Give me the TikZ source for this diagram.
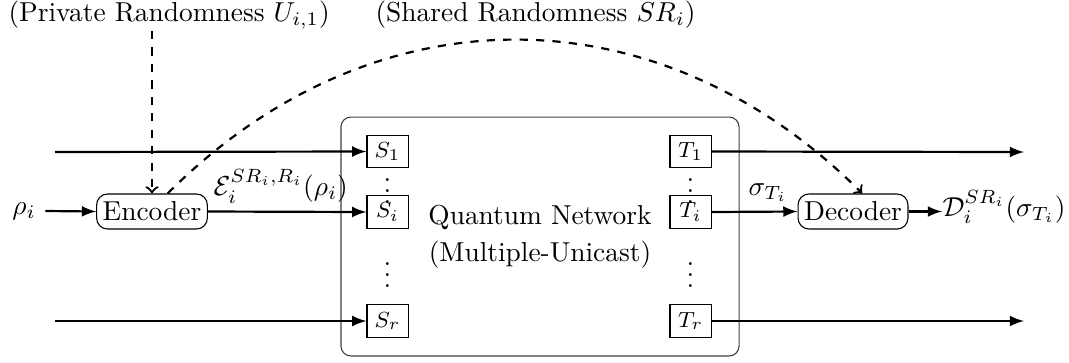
\documentclass[tikz,border=0pt]{standalone}
\usetikzlibrary{arrows}
\begin{document}
\begin{tikzpicture}[x=0.365pt,y=-0.365pt,
  sbox/.style={draw,thin,font=\footnotesize,minimum width=15pt,minimum height=12pt,inner sep=1pt},
  proc/.style={draw,thin,rounded corners=4pt,inner xsep=2.2pt,inner ysep=2pt,minimum height=12.8pt},
  toplabel/.style={anchor=base west,inner sep=0pt},
  flow/.style={thick,-latex},
  rand/.style={thick,dashed,->}]
\useasboundingbox (0,0) rectangle (1069,362);
% network
\node[draw=black!75,rounded corners=3.6pt,minimum width=145.3pt,minimum height=87.2pt,align=center] (net) at (540,236.5) {Quantum Network\\[1.4pt](Multiple-Unicast)};
% source / terminal boxes
\node[sbox] (s1) at (387.5,151.5) {$S_1$};
\node[sbox] (si) at (387.5,212) {$S_i$};
\node[sbox] (sr) at (387.5,321) {$S_r$};
\node[sbox] (t1) at (690.5,151.5) {$T_1$};
\node[sbox] (ti) at (690.5,212) {$T_i$};
\node[sbox] (tr) at (690.5,321) {$T_r$};
\node[inner sep=0pt] (sd1) at (387.5,183) {$\vdots$};
\node[inner sep=0pt] (sd2) at (387.5,267) {$\vdots$};
\node[inner sep=0pt] (td1) at (690.5,183) {$\vdots$};
\node[inner sep=0pt] (td2) at (690.5,267) {$\vdots$};
% encoder / decoder
\node[proc] (enc) at (152,211.5) {Encoder};
\node[proc] (dec) at (853,211.5) {Decoder};
\node (rho) at (24,211) {$\rho_i$};
% labels
\node[toplabel] (priv) at (8,21) {(Private Randomness $U_{i,1}$)};
\node[toplabel] (shared) at (375,21) {(Shared Randomness $SR_i$)};
% free ends
\coordinate (a1) at (55,152);
\coordinate (ar) at (55,321);
\coordinate (b1) at (1024,152);
\coordinate (br) at (1024,321);
\coordinate (pstart) at (152,31);
\coordinate (dend) at (942,211.5);
% connectors
\draw[flow] (a1) -- (s1.west);
\draw[flow] (ar) -- (sr.west);
\draw[flow] (t1.east) -- (b1);
\draw[flow] (tr.east) -- (br);
\draw[flow] (rho.east) -- (enc.west);
\draw[flow] (enc.east) -- (si.west);
\node[anchor=base west,inner sep=0pt] (elab) at (213,195.5) {$\mathcal{E}_i^{SR_i,R_i}(\rho_i)$};
\draw[flow] (ti.east) -- (dec.west);
\node[anchor=base] (slab) at (768,195) {$\sigma_{T_i}$};
\draw[flow] (dec.east) -- (dend);
\node[anchor=base west,inner sep=0pt] (dlab) at (942,216) {$\mathcal{D}_i^{SR_i}(\sigma_{T_i})$};
\draw[rand] (pstart) -- (enc.north);
\draw[rand] (enc.49) to[out=45,in=135,looseness=1.07] (dec.63);
\end{tikzpicture}
\end{document}
